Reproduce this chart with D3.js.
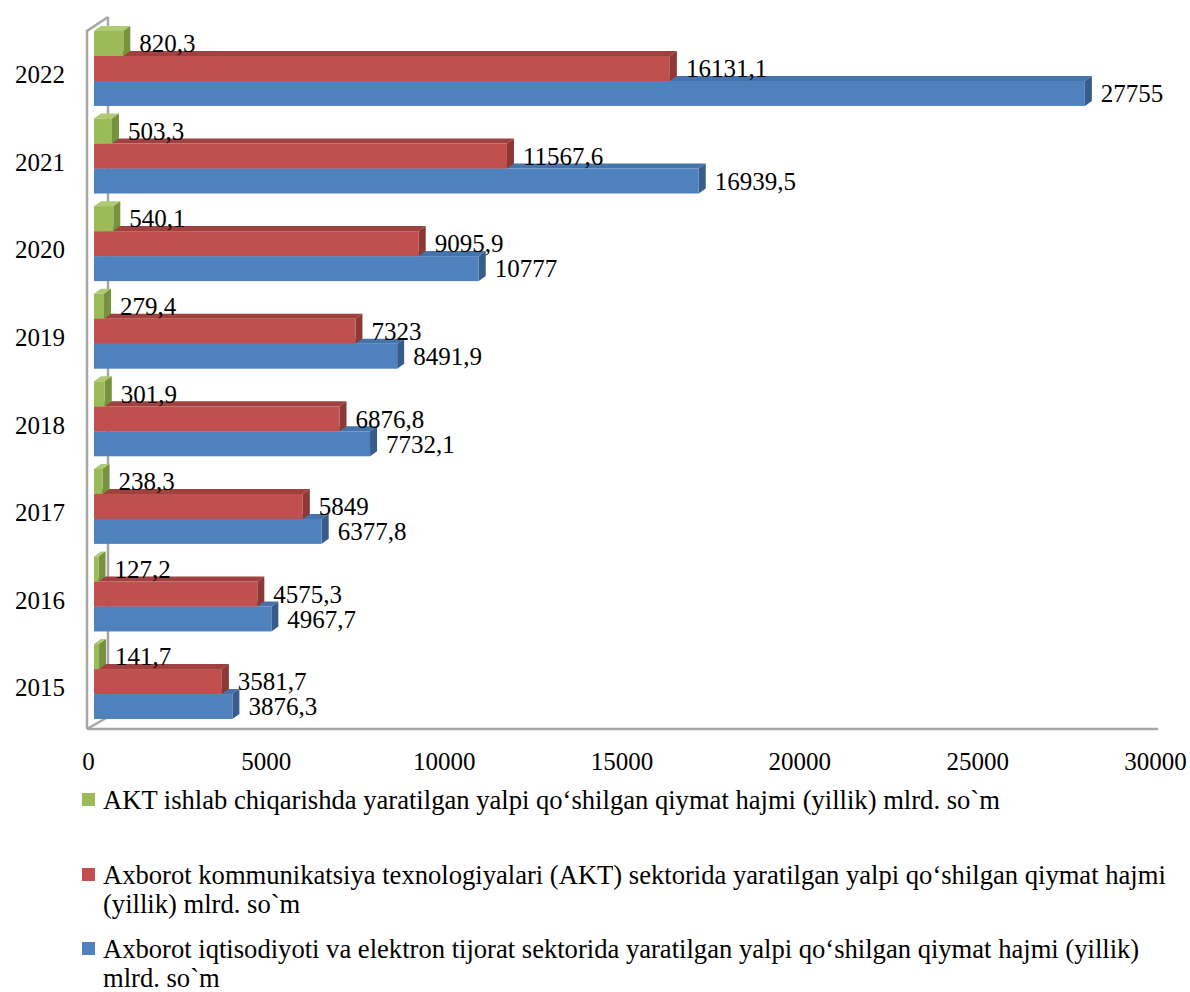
<!DOCTYPE html>
<html>
<head>
<meta charset="utf-8">
<script src="https://cdn.jsdelivr.net/npm/d3@7"></script>
<style>
html,body{margin:0;padding:0;background:#fff;}
svg{display:block;font-family:"Liberation Serif","Times New Roman",serif;}
</style>
</head>
<body>
<svg id="chart" width="1190" height="992"></svg>
<script>
const years = ["2015","2016","2017","2018","2019","2020","2021","2022"];
const greenValues = [141.7,127.2,238.3,301.9,279.4,540.1,503.3,820.3];
const redValues = [3581.7,4575.3,5849,6876.8,7323,9095.9,11567.6,16131.1];
const blueValues = [3876.3,4967.7,6377.8,7732.1,8491.9,10777,16939.5,27755];
const axisTicks = [0,5000,10000,15000,20000,25000,30000];
const seriesKeys = ["green","red","blue"];
const legendLines = [
  ["AKT ishlab chiqarishda yaratilgan yalpi qo‘shilgan qiymat hajmi (yillik) mlrd. so`m"],
  ["Axborot kommunikatsiya texnologiyalari (AKT) sektorida yaratilgan yalpi qo‘shilgan qiymat hajmi","(yillik) mlrd. so`m"],
  ["Axborot iqtisodiyoti va elektron tijorat sektorida yaratilgan yalpi qo‘shilgan qiymat hajmi (yillik)","mlrd. so`m"]
];

const colors = {
  green:{front:"#9BBB59",top:"#AECB72",side:"#76923C"},
  red:{front:"#C0504D",top:"#9E413F",side:"#8C3836"},
  blue:{front:"#4F81BD",top:"#4673AA",side:"#385D8A"}
};
const seriesValues = {green:greenValues, red:redValues, blue:blueValues};

const svg = d3.select("#chart");
const FONT = "'Liberation Serif','Times New Roman',serif";
const DX = 7, DY = -5;

const x = d3.scaleLinear().domain([0,30000]).range([94,1165]);
const xAxisScale = d3.scaleLinear().domain([0,30000]).range([88,1155]);
const y0 = d3.scaleBand().domain(years.slice().reverse()).range([22.2,727.8]).paddingInner(0.144).paddingOuter(0.1);
const y1 = d3.scaleBand().domain(seriesKeys).range([0,y0.bandwidth()]);

// back wall lines
const wall = svg.append("g").attr("fill","none").attr("stroke","#A6A6A6").attr("stroke-width",2.5);
wall.append("path").attr("d","M108,17 L108,717");
wall.append("path").attr("d","M87,729 L108,717");

// bars
const fmt = v => String(v).replace(".", ",");
const groups = svg.append("g").selectAll("g.year").data(years).join("g")
  .attr("transform", d => `translate(0,${y0(d)})`);

["blue","red","green"].forEach(key => {
  const c = colors[key];
  groups.each(function(yr, i){
    const g = d3.select(this);
    const v = seriesValues[key][i];
    const x0 = x(0), x1 = x(v);
    const t = y1(key), h = y1.bandwidth();
    g.append("path").attr("fill",c.top)
      .attr("d",`M${x0},${t} L${x0+DX},${t+DY} L${x1+DX},${t+DY} L${x1},${t} Z`);
    g.append("path").attr("fill",c.side)
      .attr("d",`M${x1},${t} L${x1+DX},${t+DY} L${x1+DX},${t+h+DY} L${x1},${t+h} Z`);
    g.append("rect").attr("fill",c.front)
      .attr("x",x0).attr("y",t).attr("width",x1-x0).attr("height",h);
  });
});

// data labels
seriesKeys.forEach(key => {
  groups.append("text")
    .attr("x",(d,i)=>x(seriesValues[key][i])+DX+9)
    .attr("y",()=>y1(key)+y1.bandwidth()/2)
    .attr("dy","0.35em")
    .attr("font-size",25)
    .attr("font-family",FONT)
    .attr("fill","#000")
    .text((d,i)=>fmt(seriesValues[key][i]));
});

// front wall edge + floor
const frame = svg.append("g").attr("fill","none").attr("stroke","#A6A6A6").attr("stroke-width",2.5);
frame.append("path").attr("d","M87,729 L87,31 L108,17");
frame.append("path").attr("d","M87,729 L1158,729");

// year labels
svg.append("g").selectAll("text").data(years).join("text")
  .attr("x",65).attr("y",d=>y0(d)+y0.bandwidth()/2+6)
  .attr("dy","0.35em").attr("text-anchor","end")
  .attr("font-family",FONT)
  .attr("font-size",25).text(d=>d);

// x axis labels
const ax = svg.append("g").attr("transform","translate(0,752)")
  .call(d3.axisBottom(xAxisScale).tickValues(axisTicks).tickFormat(d3.format("d")).tickSize(0).tickPadding(0));
ax.select(".domain").remove();
ax.selectAll("text").attr("font-size",25).attr("font-family",FONT).attr("fill","#000");

// legend
const legendY = [800,875,949];
const lg = svg.append("g").selectAll("g").data(seriesKeys).join("g")
  .attr("transform",(d,i)=>`translate(0,${legendY[i]})`);
lg.append("rect").attr("x",82).attr("y",-7).attr("width",13).attr("height",13)
  .attr("fill",d=>colors[d].front);
lg.append("text").attr("x",103).attr("font-size",26.6).attr("font-family",FONT).attr("fill","#000")
  .selectAll("tspan").data((d,i)=>legendLines[i]).join("tspan")
  .attr("x",103).attr("y",(d,j)=>j*28.5).attr("dy","0.35em").text(d=>d);
</script>
</body>
</html>
